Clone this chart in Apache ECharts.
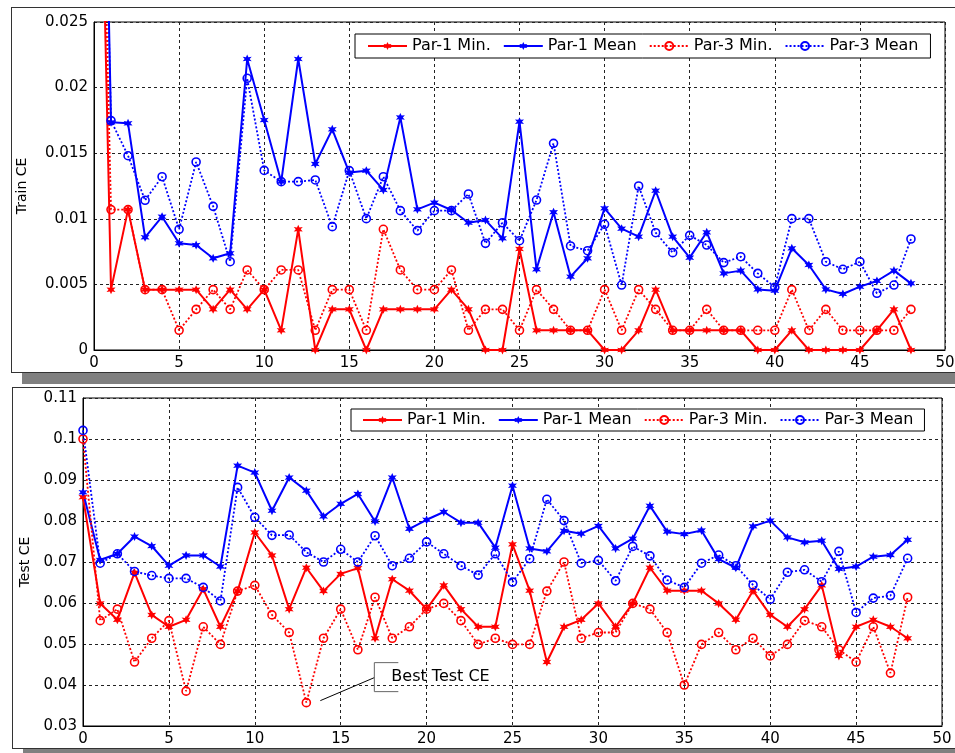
<!DOCTYPE html>
<html>
<head>
<meta charset="utf-8">
<script src="https://cdn.jsdelivr.net/npm/echarts@6/dist/echarts.min.js"></script>
<style>
  html, body { margin: 0; padding: 0; background: #fff; width: 955px; height: 753px; overflow: hidden; }
  .panel { position: absolute; background: #fff; border: 1px solid #333; box-shadow: 11px 11px 0 #808080; }
  #train { left: 11px; top: 7px; width: 990px; height: 364px; }
  #test { left: 12px; top: 387px; width: 990px; height: 360px; }
</style>
</head>
<body>
<div id="train" class="panel"></div>
<div id="test" class="panel"></div>
<script>
// epochs 0..48
var epochs = [];
for (var i = 0; i <= 48; i++) epochs.push(i);

var legendNames = ['Par-1 Min.', 'Par-1 Mean', 'Par-3 Min.', 'Par-3 Mean'];

// train CE (first value is off the top of the axis)
var trainPar1Min = [0.063, 0.0046, 0.0107, 0.0046, 0.0046, 0.0046, 0.0046, 0.0031, 0.0046, 0.0031,
  0.0046, 0.0015, 0.0092, 0, 0.0031, 0.0031, 0, 0.0031, 0.0031, 0.0031,
  0.0031, 0.0046, 0.0031, 0, 0, 0.0077, 0.0015, 0.0015, 0.0015, 0.0015,
  0, 0, 0.0015, 0.0046, 0.0015, 0.0015, 0.0015, 0.0015, 0.0015, 0,
  0, 0.0015, 0, 0, 0, 0, 0.0015, 0.0031, 0];
var trainPar1Mean = [0.081, 0.01735, 0.01728, 0.00859, 0.01016, 0.00813, 0.0080, 0.00699, 0.00737, 0.02218,
  0.01753, 0.01283, 0.02218, 0.01418, 0.01682, 0.01352, 0.01367, 0.0122, 0.01773, 0.01072,
  0.01123, 0.01067, 0.0097, 0.0099, 0.00851, 0.0174, 0.00615, 0.0105, 0.00559, 0.00699,
  0.0108, 0.00925, 0.00864, 0.01214, 0.00864, 0.00704, 0.00897, 0.00584, 0.00605, 0.00462,
  0.00452, 0.00775, 0.00648, 0.00462, 0.00427, 0.00483, 0.00526, 0.00605, 0.00508];
var trainPar3Min = [0.066, 0.0107, 0.0107, 0.0046, 0.0046, 0.0015, 0.0031, 0.0046, 0.0031, 0.0061,
  0.0046, 0.0061, 0.0061, 0.0015, 0.0046, 0.0046, 0.0015, 0.0092, 0.0061, 0.0046,
  0.0046, 0.0061, 0.0015, 0.0031, 0.0031, 0.0015, 0.0046, 0.0031, 0.0015, 0.0015,
  0.0046, 0.0015, 0.0046, 0.0031, 0.0015, 0.0015, 0.0031, 0.0015, 0.0015, 0.0015,
  0.0015, 0.0046, 0.0015, 0.0031, 0.0015, 0.0015, 0.0015, 0.0015, 0.0031];
var trainPar3Mean = [0.0715, 0.01748, 0.01481, 0.01141, 0.01321, 0.0092, 0.01433, 0.01095, 0.00673, 0.02071,
  0.01369, 0.01283, 0.01283, 0.01296, 0.0094, 0.01367, 0.01001, 0.01321, 0.01062, 0.0091,
  0.01062, 0.01062, 0.01189, 0.00813, 0.0097, 0.00833, 0.01143, 0.01575, 0.00793, 0.00757,
  0.00958, 0.00495, 0.0125, 0.00894, 0.00742, 0.00874, 0.0080, 0.00666, 0.00711, 0.00584,
  0.00478, 0.01001, 0.01001, 0.00673, 0.00615, 0.00673, 0.00432, 0.00495, 0.00846];

// test CE
var testPar1Min = [0.0858, 0.0599, 0.0559, 0.0674, 0.0571, 0.0542, 0.0559, 0.0634, 0.0542, 0.0629,
  0.0772, 0.0716, 0.0585, 0.0686, 0.0629, 0.0671, 0.0685, 0.0514, 0.0658, 0.063,
  0.0585, 0.0643, 0.0585, 0.0542, 0.0542, 0.0743, 0.063, 0.0456, 0.0542, 0.0559,
  0.0599, 0.0542, 0.0599, 0.0686, 0.063, 0.063, 0.063, 0.0599, 0.0559, 0.063,
  0.0571, 0.0542, 0.0585, 0.0643, 0.0471, 0.0542, 0.0559, 0.0542, 0.0514];
var testPar1Mean = [0.087, 0.0705, 0.072, 0.0762, 0.0739, 0.0691, 0.0716, 0.0716, 0.0689, 0.0935,
  0.0918, 0.0825, 0.0906, 0.0874, 0.0811, 0.0842, 0.0866, 0.0799, 0.0906, 0.0781,
  0.0803, 0.0822, 0.0796, 0.0796, 0.0735, 0.0886, 0.0733, 0.0726, 0.0776, 0.0769,
  0.0788, 0.0733, 0.0757, 0.0837, 0.0774, 0.0768, 0.0777, 0.0707, 0.0686, 0.0787,
  0.0801, 0.076, 0.0748, 0.0752, 0.0683, 0.0689, 0.0713, 0.0717, 0.0754];
var testPar3Min = [0.1, 0.0557, 0.0585, 0.0456, 0.0514, 0.0557, 0.0385, 0.0542, 0.0499, 0.0629,
  0.0643, 0.0571, 0.0528, 0.0357, 0.0514, 0.0585, 0.0486, 0.0614, 0.0514, 0.0542,
  0.0585, 0.0599, 0.0557, 0.0499, 0.0514, 0.0499, 0.0499, 0.0629, 0.07, 0.0514,
  0.0528, 0.0528, 0.0599, 0.0585, 0.0528, 0.04, 0.0499, 0.0528, 0.0486, 0.0514,
  0.0471, 0.0499, 0.0557, 0.0542, 0.0486, 0.0456, 0.0542, 0.0429, 0.0614];
var testPar3Mean = [0.1021, 0.0697, 0.072, 0.0677, 0.0667, 0.066, 0.066, 0.0638, 0.0605, 0.0882,
  0.0809, 0.0765, 0.0766, 0.0724, 0.07, 0.0731, 0.07, 0.0764, 0.0691, 0.0709,
  0.0749, 0.072, 0.0691, 0.0668, 0.072, 0.0651, 0.0708, 0.0853, 0.0801, 0.0697,
  0.0704, 0.0654, 0.0738, 0.0715, 0.0656, 0.0638, 0.0697, 0.0717, 0.0691, 0.0644,
  0.0609, 0.0675, 0.0681, 0.0652, 0.0726, 0.0577, 0.0612, 0.0618, 0.0709];

var FONT = 'DejaVu Sans';
var RED = '#ff0000', BLUE = '#0000ff';

// matlab-like '*' marker, a bit chunky like in the screenshot
var starPath = (function () {
  var s = 'path://';
  for (var k = 0; k < 12; k++) {
    var a = (k * 30 - 90) * Math.PI / 180, r = k % 2 ? 4.8 : 10;
    s += (k ? 'L' : 'M') + (r * Math.cos(a)).toFixed(2) + ',' + (r * Math.sin(a)).toFixed(2);
  }
  return s + 'Z';
})();

function pairs(ys) {
  return epochs.map(function (x, i) { return [x, ys[i]]; });
}

function series(name, ys, color, dotted) {
  return {
    name: name,
    type: 'line',
    data: pairs(ys),
    symbol: dotted ? 'circle' : starPath,
    symbolSize: dotted ? 8 : 9,
    showAllSymbol: true,
    clip: true,
    lineStyle: { color: color, width: dotted ? 1.8 : 2, type: dotted ? [2, 2] : 'solid' },
    itemStyle: dotted
      ? { color: 'rgba(255,255,255,0)', borderColor: color, borderWidth: 1.6 }
      : { color: color, borderWidth: 0 },
    emphasis: { disabled: true }
  };
}

function makeOption(c) {
  return {
    animation: false,
    textStyle: { fontFamily: FONT },
    grid: {
      left: c.grid[0], top: c.grid[1], width: c.grid[2], height: c.grid[3],
      show: true, borderColor: '#000', borderWidth: 1, backgroundColor: '#fff',
      outerBoundsMode: 'none'
    },
    legend: {
      data: legendNames,
      left: c.legend[0], top: c.legend[1],
      orient: 'horizontal',
      padding: c.legendPad,
      itemGap: 12,
      itemWidth: 39,
      itemHeight: 10,
      backgroundColor: '#fff',
      borderColor: '#000',
      borderWidth: 1,
      borderRadius: 0,
      selectedMode: false,
      textStyle: { fontFamily: FONT, fontSize: 16, color: '#000' }
    },
    xAxis: {
      type: 'value', min: 0, max: 50, interval: 5,
      axisLine: { show: true, lineStyle: { color: '#000' } },
      axisTick: { show: false },
      axisLabel: { color: '#000', fontSize: 15, fontFamily: FONT, margin: 6 },
      splitLine: { show: true, lineStyle: { color: '#222', type: [3, 3], width: 1 } }
    },
    yAxis: {
      type: 'value', min: c.yMin, max: c.yMax, interval: c.yStep,
      name: c.yName, nameLocation: 'middle', nameRotate: 90, nameGap: c.nameGap,
      nameTextStyle: { color: '#000', fontSize: 14, fontFamily: FONT },
      axisLine: { show: true, lineStyle: { color: '#000' } },
      axisTick: { show: false },
      axisLabel: { color: '#000', fontSize: 15, fontFamily: FONT, margin: 6 },
      splitLine: { show: true, lineStyle: { color: '#222', type: [3, 3], width: 1 } }
    },
    series: [
      series(legendNames[0], c.data[0], RED, false),
      series(legendNames[1], c.data[1], BLUE, false),
      series(legendNames[2], c.data[2], RED, true),
      series(legendNames[3], c.data[3], BLUE, true)
    ]
  };
}

var chartTrain = echarts.init(document.getElementById('train'));
chartTrain.setOption(makeOption({
  grid: [82, 14, 851, 328],
  legend: [343, 26],
  legendPad: [4, 12, 4, 12],
  yMin: 0, yMax: 0.025, yStep: 0.005,
  yName: 'Train CE', nameGap: 65,
  data: [trainPar1Min, trainPar1Mean, trainPar3Min, trainPar3Mean]
}));

var chartTest = echarts.init(document.getElementById('test'));
chartTest.setOption(makeOption({
  grid: [70, 10, 859, 328],
  legend: [338, 21],
  legendPad: [3, 11, 3, 11],
  yMin: 0.03, yMax: 0.11, yStep: 0.01,
  yName: 'Test CE', nameGap: 51,
  data: [testPar1Min, testPar1Mean, testPar3Min, testPar3Mean]
}));

// "Best Test CE" callout, anchored at the lowest Par-3 Min. point
var best = testPar3Min.indexOf(Math.min.apply(null, testPar3Min));
var p = chartTest.convertToPixel({ gridIndex: 0 }, [epochs[best], testPar3Min[best]]);
chartTest.setOption({
  graphic: [
    { type: 'line', silent: true, z: 100,
      shape: { x1: p[0] + 14, y1: p[1] - 2, x2: p[0] + 68, y2: p[1] - 25 },
      style: { stroke: '#000', lineWidth: 1 } },
    { type: 'polyline', silent: true, z: 100,
      shape: { points: [[p[0] + 92, p[1] - 40], [p[0] + 68, p[1] - 40], [p[0] + 68, p[1] - 11], [p[0] + 92, p[1] - 11]] },
      style: { stroke: '#666', lineWidth: 1, fill: null } },
    { type: 'text', silent: true, z: 100, x: p[0] + 85, y: p[1] - 26,
      style: { text: 'Best Test CE', fill: '#000', font: '16px "DejaVu Sans"', verticalAlign: 'middle' } }
  ]
});
</script>
</body>
</html>
